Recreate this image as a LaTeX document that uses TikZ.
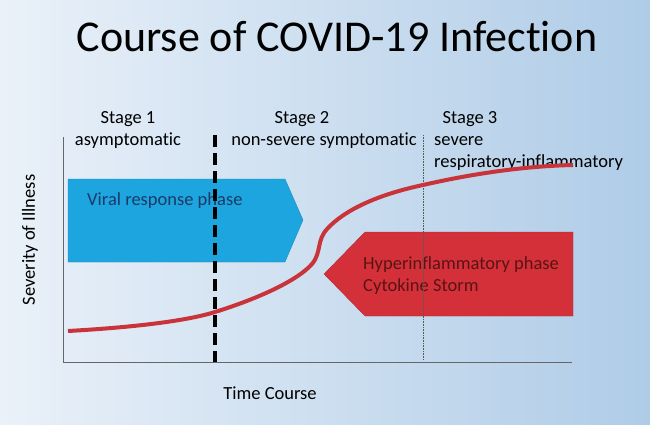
\documentclass[tikz,border=0pt]{standalone}
\usepackage{fontspec}
\setmainfont{Carlito}[Ligatures=NoCommon]
\usepackage{tikz}
\usetikzlibrary{positioning}
\definecolor{bgleft}{HTML}{EAF1F9}
\definecolor{bgright}{HTML}{AFCCE7}
\definecolor{viralblue}{HTML}{1DA5E0}
\definecolor{viraltext}{HTML}{1B3A66}
\definecolor{stormred}{HTML}{D3303A}
\definecolor{stormtext}{HTML}{5A1414}
\definecolor{curvered}{HTML}{C9333A}
\tikzset{
  lab/.style={font=\fontsize{18.5}{21}\selectfont, inner sep=0pt},
  axisline/.style={draw=gray!80!black, line width=0.8pt},
}
\begin{document}
\begin{tikzpicture}[x=1pt,y=-1pt]
        \shade[left color=bgleft, right color=bgright] (0,0) rectangle (650,425);
        \useasboundingbox (0,0) rectangle (650,425);
        \node[inner sep=0pt, font=\fontsize{44}{50}\selectfont] (title) at (337,37) {Course of COVID-19 Infection};
        % phase arrows
        \filldraw[fill=viralblue, draw=viralblue!80!black, line width=0.3pt] (68,179)--(285,179)--(303,220)--(285,262)--(68,262)--cycle;
        \node[lab, anchor=west, text=viraltext] (viral) at (87,201) {Viral response phase};
        \filldraw[fill=stormred, draw=stormred!80!black, line width=0.3pt] (573,232)--(365,232)--(324,274)--(365,316)--(573,316)--cycle;
        \node[lab, anchor=west, text=stormtext] (hyper) at (363,265) {Hyperinflammatory phase};
        \node[lab, anchor=west, text=stormtext] (storm) at (363,287) {Cytokine Storm};
        % axes and stage lines
        \draw[axisline] (63,137)--(63,362)--(572,362);
        \draw[line width=3.5pt, dash pattern=on 12pt off 6pt] (215,135)--(215,362);
        \draw[densely dotted, line width=0.6pt, gray!70!black] (423,135)--(423,360);
        % stage labels
        \node[lab] (s1) at (128,119) {Stage 1};
        \node[lab] (s1b) at (128,141) {asymptomatic};
        \node[lab] (s2) at (302,119) {Stage 2};
        \node[lab] (s2b) at (324,141) {non-severe symptomatic};
        \node[lab] (s3) at (470,119) {Stage 3};
        \node[lab, anchor=west] (s3b) at (434,141) {severe};
        \node[lab, anchor=west] (s3c) at (434,163) {respiratory-inflammatory};
        % severity curve
        \draw[curvered, line width=4pt] (68,331) .. controls (140,327) and (190,320) .. (215,312)
          .. controls (260,298) and (298,280) .. (312,264)
          .. controls (322,252) and (316,240) .. (328,228)
          .. controls (350,205) and (390,192) .. (423,185)
          .. controls (480,172) and (530,166) .. (573,165);
        % axis labels
        \node[lab, rotate=90] (yl) at (30,240) {Severity of Illness};
        \node[lab] (xl) at (270,393) {Time Course};
    \end{tikzpicture}
\end{document}
